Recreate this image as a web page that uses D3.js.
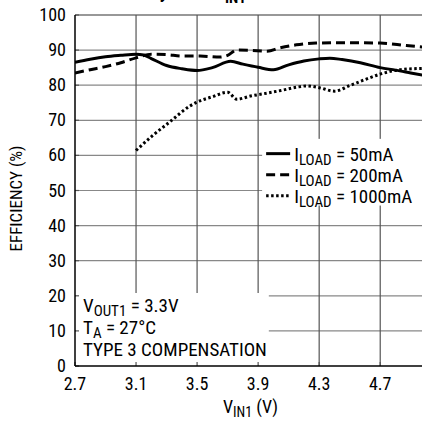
<!DOCTYPE html>
<html>
<head>
<meta charset="utf-8">
<script src="https://cdnjs.cloudflare.com/ajax/libs/d3/7.8.5/d3.min.js"></script>
<style>
  body { margin: 0; background: white; }
  text { font-family: "Liberation Sans Narrow", "Roboto Condensed", "Liberation Sans", sans-serif; fill: black; }
</style>
</head>
<body>
<div id="chart"></div>
<script>
// Data
var vin50 = [2.7, 2.8, 2.9, 3.0, 3.1, 3.15, 3.2, 3.3, 3.4, 3.5, 3.6, 3.72, 3.8, 3.9, 4.0, 4.1, 4.2, 4.3, 4.37, 4.45, 4.57, 4.7, 4.8, 4.9, 5.0];
var eff50 = [86.5, 87.4, 88.1, 88.5, 88.8, 88.6, 87.6, 85.6, 84.7, 84.2, 85.0, 86.8, 86.0, 85.1, 84.4, 85.8, 86.9, 87.5, 87.7, 87.3, 86.4, 85.0, 84.3, 83.5, 82.7];

var vin200 = [2.7, 2.8, 2.9, 3.0, 3.1, 3.2, 3.3, 3.4, 3.52, 3.65, 3.7, 3.76, 3.85, 3.96, 4.04, 4.15, 4.28, 4.4, 4.55, 4.7, 4.87, 5.0];
var eff200 = [83.5, 84.4, 85.3, 86.4, 87.8, 88.8, 88.7, 88.3, 88.3, 88.0, 88.5, 90.0, 89.9, 89.7, 90.6, 91.5, 92.0, 92.1, 92.1, 92.0, 91.3, 90.8];

var vin1000 = [3.1, 3.21, 3.32, 3.45, 3.5, 3.6, 3.7, 3.76, 3.85, 3.94, 4.05, 4.15, 4.22, 4.3, 4.4, 4.5, 4.6, 4.71, 4.85, 5.0];
var eff1000 = [61.4, 65.7, 69.5, 74.0, 75.2, 76.7, 78.0, 76.0, 76.9, 77.6, 78.5, 79.4, 79.8, 79.3, 78.3, 79.9, 81.6, 83.3, 84.5, 84.8];

var xTicks = [2.7, 3.1, 3.5, 3.9, 4.3, 4.7];
var yTicks = [0, 10, 20, 30, 40, 50, 60, 70, 80, 90, 100];

var svgWidth = 422;
var svgHeight = 423;

// Plot area edges
var margin = { top: 15, right: -4, bottom: 57, left: 75 };
var chartWidth = svgWidth - margin.left - margin.right;
var chartHeight = svgHeight - margin.top - margin.bottom;

var svg = d3.select("#chart")
  .append("svg")
  .attr("width", svgWidth)
  .attr("height", svgHeight);

// Title, mostly cut off by the top edge
var title = svg.append("text")
  .attr("x", 94)
  .attr("y", -2)
  .style("font-weight", "bold")
  .style("font-size", "19px");
title.append("tspan").text("Efficiency vs V");
title.append("tspan").attr("x", 225).attr("dy", 5).style("font-size", "15px").text("IN1");

var chartGroup = svg.append("g")
  .attr("transform", `translate(${margin.left}, ${margin.top})`);

var xScale = d3.scaleLinear().domain([2.7, 5.0]).range([0, chartWidth]);
var yScale = d3.scaleLinear().domain([0, 100]).range([chartHeight, 0]);

// Grid lines
chartGroup.append("g")
  .selectAll("line")
  .data(yTicks.filter(d => d > 0))
  .enter()
  .append("line")
  .attr("x1", 0)
  .attr("x2", chartWidth)
  .attr("y1", d => yScale(d))
  .attr("y2", d => yScale(d))
  .attr("stroke", d => d == 100 ? "#333" : "#888")
  .attr("stroke-width", 1.2);

chartGroup.append("g")
  .selectAll("line")
  .data(xTicks.filter(d => d > 2.7))
  .enter()
  .append("line")
  .attr("x1", d => xScale(d))
  .attr("x2", d => xScale(d))
  .attr("y1", 0)
  .attr("y2", chartHeight)
  .attr("stroke", "#555")
  .attr("stroke-width", 1.2);

// White boxes behind legend and notes
chartGroup.append("rect")
  .attr("x", xScale(3.9) + 4)
  .attr("y", yScale(65) + 1)
  .attr("width", chartWidth)
  .attr("height", yScale(46) - yScale(65))
  .attr("fill", "white");

chartGroup.append("rect")
  .attr("x", 1)
  .attr("y", yScale(20.8))
  .attr("width", xScale(3.97) - 1)
  .attr("height", chartHeight - yScale(20.8))
  .attr("fill", "white");

// Inside ticks
chartGroup.append("g")
  .selectAll("line")
  .data(xTicks)
  .enter()
  .append("line")
  .attr("x1", d => xScale(d))
  .attr("x2", d => xScale(d))
  .attr("y1", chartHeight)
  .attr("y2", chartHeight - 4)
  .attr("stroke", "#555")
  .attr("stroke-width", 1.2);

chartGroup.append("g")
  .selectAll("line")
  .data(yTicks)
  .enter()
  .append("line")
  .attr("x1", 0)
  .attr("x2", 4)
  .attr("y1", d => yScale(d))
  .attr("y2", d => yScale(d))
  .attr("stroke", "#555")
  .attr("stroke-width", 1.2);

// Axes frame
chartGroup.append("line")
  .attr("x1", 0).attr("x2", 0)
  .attr("y1", 0).attr("y2", chartHeight)
  .attr("stroke", "black").attr("stroke-width", 1.5);
chartGroup.append("line")
  .attr("x1", 0).attr("x2", chartWidth)
  .attr("y1", chartHeight).attr("y2", chartHeight)
  .attr("stroke", "black").attr("stroke-width", 1.5);

// Tick labels
chartGroup.append("g")
  .selectAll("text")
  .data(yTicks)
  .enter()
  .append("text")
  .attr("x", -9)
  .attr("y", d => yScale(d) + 6)
  .attr("text-anchor", "end")
  .style("font-size", "18px")
  .text(d => d);

chartGroup.append("g")
  .selectAll("text")
  .data(xTicks)
  .enter()
  .append("text")
  .attr("x", d => xScale(d))
  .attr("y", chartHeight + 24)
  .attr("text-anchor", "middle")
  .style("font-size", "18px")
  .text(d => d.toFixed(1));

// Axis titles
var xTitle = chartGroup.append("text")
  .attr("x", chartWidth / 2)
  .attr("y", chartHeight + 47)
  .attr("text-anchor", "middle")
  .style("font-size", "18px");
xTitle.append("tspan").text("V");
xTitle.append("tspan").attr("dy", 4).style("font-size", "14px").text("IN1");
xTitle.append("tspan").attr("dy", -4).text(" (V)");

chartGroup.append("text")
  .attr("transform", "rotate(-90)")
  .attr("x", -(chartHeight / 2) - 8)
  .attr("y", -53)
  .attr("text-anchor", "middle")
  .style("font-size", "17px")
  .text("EFFICIENCY (%)");

// Curves
var createLine = d3.line()
  .x(d => xScale(d[0]))
  .y(d => yScale(d[1]))
  .curve(d3.curveMonotoneX);

var series = [
  { x: vin50, y: eff50, dash: null },
  { x: vin200, y: eff200, dash: "9,5" },
  { x: vin1000, y: eff1000, dash: "2.5,2.5" }
];

chartGroup.append("defs").append("clipPath")
  .attr("id", "plotClip")
  .append("rect")
  .attr("width", chartWidth)
  .attr("height", chartHeight);

chartGroup.append("g")
  .attr("clip-path", "url(#plotClip)")
  .selectAll("path")
  .data(series)
  .enter()
  .append("path")
  .attr("fill", "none")
  .attr("stroke", "black")
  .attr("stroke-width", 3)
  .attr("stroke-dasharray", d => d.dash)
  .attr("d", d => createLine(d.x.map((v, i) => [v, d.y[i]])));

// Legend
var legendNames = ["50mA", "200mA", "1000mA"];
var legend = chartGroup.append("g")
  .attr("transform", `translate(${xScale(3.9) + 8}, ${yScale(60.5)})`);

legend.selectAll("line")
  .data(series)
  .enter()
  .append("line")
  .attr("x1", 0)
  .attr("x2", 24)
  .attr("y1", (d, i) => i * 21)
  .attr("y2", (d, i) => i * 21)
  .attr("stroke", "black")
  .attr("stroke-width", 3)
  .attr("stroke-dasharray", d => d.dash);

var legendText = legend.selectAll("text")
  .data(legendNames)
  .enter()
  .append("text")
  .attr("x", 28)
  .attr("y", (d, i) => i * 21 + 7)
  .style("font-size", "19px");
legendText.append("tspan").text("I");
legendText.append("tspan").attr("dy", 4).style("font-size", "15px").text("LOAD");
legendText.append("tspan").attr("dy", -4).text(d => " = " + d);

// Conditions note
var notes = chartGroup.append("g")
  .attr("transform", `translate(8, ${yScale(15.3)})`)
  .style("font-size", "19px");
var n1 = notes.append("text").attr("y", 0);
n1.append("tspan").text("V");
n1.append("tspan").attr("dy", 4).style("font-size", "15px").text("OUT1");
n1.append("tspan").attr("dy", -4).text(" = 3.3V");
var n2 = notes.append("text").attr("y", 22);
n2.append("tspan").text("T");
n2.append("tspan").attr("dy", 4).style("font-size", "15px").text("A");
n2.append("tspan").attr("dy", -4).text(" = 27°C");
notes.append("text").attr("y", 44).text("TYPE 3 COMPENSATION");
</script>
</body>
</html>
